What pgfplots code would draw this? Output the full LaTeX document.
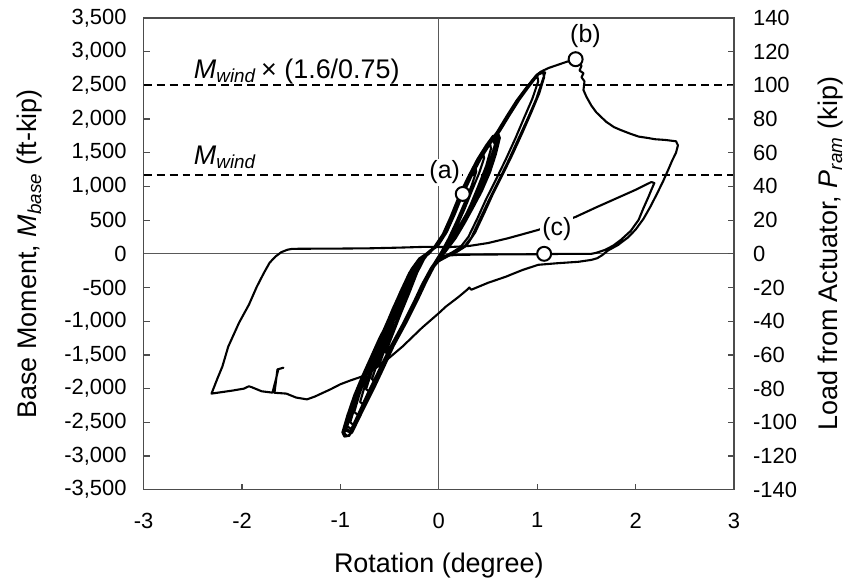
\documentclass[border=0pt]{standalone}
\usepackage{pgfplots}
\pgfplotsset{compat=1.18}
\usepackage{fontspec}
\setmainfont{Liberation Sans}
\begin{document}
\begin{tikzpicture}
\pgfplotsset{
  base/.style={width=296pt, height=236.5pt, scale only axis,
   /pgf/number format/assume math mode=true,
   tick label style={font=\fontsize{11}{13}\selectfont},
   label style={font=\fontsize{13.5}{16}\selectfont},
   axis line style={black!70, line width=0.6pt},
   tick style={black!70, line width=0.6pt},
   tick align=inside, major tick length=3pt,
   xmin=-3, xmax=3},
  hyst/.style={black, line width=1.05pt, line join=round, no markers}
}
\begin{axis}[base,
  ymin=-3500, ymax=3500, ytick distance=500, xtick distance=1,
  xtick pos=bottom, ytick pos=left,
  yticklabel style={/pgf/number format/1000 sep={,}, xshift=-5pt},
  xticklabel style={yshift=-8pt},
  xlabel={Rotation (degree)},
  ylabel={Base Moment, \textit{M}\textsubscript{\textit{base}} (ft-kip)},
  xlabel style={at={(rel axis cs:0.5,-0.1607)}, anchor=center},
  ylabel style={at={(rel axis cs:-0.1926,0.5)}, anchor=center},
]
% zero lines
\addplot[black!65, line width=0.6pt] coordinates {(0,-3500) (0,3500)};
\addplot[black!65, line width=0.6pt] coordinates {(-3,0) (3,0)};
% reference lines
\addplot[black, line width=1.1pt, dash pattern=on 4pt off 2.5pt] coordinates {(-3,2500) (3,2500)};
\addplot[black, line width=1.1pt, dash pattern=on 4pt off 2.5pt] coordinates {(-3,1172) (3,1172)};
% cyclic bundle
\addplot[hyst] coordinates {
(-0.12,0) (-0.03,100) (0.06,300) (0.14,560) (0.22,850) (0.31,1130) (0.37,1300)
(0.38,1220) (0.33,1000) (0.26,750) (0.18,480) (0.1,230) (0.03,40) (-0.03,-100) (-0.08,-220)
(-0.17,-450) (-0.25,-700) (-0.37,-1050) (-0.47,-1350) (-0.52,-1500)
(-0.54,-1460) (-0.47,-1200) (-0.39,-900) (-0.3,-580) (-0.22,-280) (-0.15,-80) (-0.1,20)
(-0.02,110) (0.07,310) (0.15,570) (0.23,860) (0.32,1140) (0.41,1400) (0.45,1500)
(0.46,1420) (0.41,1200) (0.34,950) (0.26,660) (0.18,400) (0.1,170) (0.03,20) (-0.03,-110) (-0.08,-220)
(-0.16,-440) (-0.24,-690) (-0.36,-1040) (-0.49,-1390) (-0.57,-1650) (-0.59,-1700)
(-0.61,-1660) (-0.55,-1420) (-0.47,-1130) (-0.39,-850) (-0.31,-560) (-0.23,-260) (-0.16,-70) (-0.11,10)
(-0.03,105) (0.06,305) (0.14,565) (0.23,855) (0.32,1135) (0.42,1410) (0.51,1620) (0.52,1650)
(0.53,1560) (0.48,1300) (0.4,1000) (0.32,720) (0.24,470) (0.16,250) (0.08,60) (0.0,-70) (-0.06,-200)
(-0.14,-420) (-0.22,-670) (-0.34,-1020) (-0.47,-1370) (-0.57,-1690) (-0.63,-1870) (-0.65,-1900)
(-0.68,-1860) (-0.62,-1600) (-0.54,-1300) (-0.46,-1000) (-0.37,-700) (-0.29,-400) (-0.21,-160) (-0.15,-40) (-0.1,15)
(-0.02,110) (0.07,315) (0.15,575) (0.23,865) (0.32,1145) (0.42,1420) (0.51,1630) (0.57,1750)
(0.59,1660) (0.54,1400) (0.47,1140) (0.39,880) (0.31,640) (0.22,410) (0.14,200) (0.06,40) (-0.01,-80) (-0.07,-210)
(-0.15,-430) (-0.23,-680) (-0.35,-1030) (-0.48,-1380) (-0.58,-1700) (-0.66,-1950) (-0.7,-2050)
(-0.74,-2010) (-0.68,-1740) (-0.6,-1430) (-0.52,-1130) (-0.43,-820) (-0.34,-500) (-0.26,-230) (-0.19,-70) (-0.12,10)
(-0.03,100) (0.06,300) (0.14,560) (0.22,850) (0.31,1130) (0.41,1410) (0.5,1620) (0.59,1800)
(0.61,1700) (0.56,1420) (0.5,1160) (0.42,880) (0.33,650) (0.24,420) (0.15,200) (0.07,40) (0.0,-80) (-0.06,-200)
(-0.14,-420) (-0.22,-670) (-0.34,-1020) (-0.47,-1370) (-0.57,-1690) (-0.67,-2000) (-0.75,-2250)
(-0.8,-2200) (-0.75,-1950) (-0.68,-1660) (-0.6,-1370) (-0.51,-1060) (-0.42,-740) (-0.33,-440) (-0.25,-190) (-0.18,-60) (-0.12,0)
(-0.04,95) (0.05,295) (0.13,555) (0.21,845) (0.3,1125) (0.4,1405) (0.49,1615) (0.58,1780)
(0.6,1690) (0.55,1430) (0.49,1170) (0.41,900) (0.32,660) (0.23,430) (0.14,210) (0.06,45) (-0.01,-80) (-0.07,-205)
(-0.15,-430) (-0.23,-680) (-0.35,-1030) (-0.48,-1380) (-0.58,-1700) (-0.68,-2010) (-0.78,-2300) (-0.81,-2400)
(-0.86,-2350) (-0.81,-2100) (-0.74,-1800) (-0.66,-1500) (-0.58,-1220) (-0.49,-920) (-0.4,-620) (-0.31,-330) (-0.23,-130) (-0.16,-30) (-0.12,5)
(-0.01,115) (0.08,320) (0.16,580) (0.24,870) (0.33,1150) (0.43,1425) (0.52,1635) (0.55,1700)
(0.57,1620) (0.52,1380) (0.45,1120) (0.37,860) (0.29,620) (0.2,390) (0.12,185) (0.04,30) (-0.02,-90) (-0.08,-215)
(-0.16,-440) (-0.24,-690) (-0.36,-1040) (-0.49,-1390) (-0.6,-1720) (-0.7,-2040) (-0.8,-2350) (-0.86,-2550)
(-0.9,-2500) (-0.85,-2250) (-0.78,-1950) (-0.7,-1650) (-0.62,-1360) (-0.53,-1060) (-0.45,-790) (-0.35,-480) (-0.27,-220) (-0.19,-60) (-0.13,0)
(-0.05,95) (0.04,290) (0.12,550) (0.2,840) (0.29,1120) (0.39,1400) (0.48,1610) (0.55,1750)
(0.58,1680) (0.54,1450) (0.48,1190) (0.4,920) (0.31,670) (0.22,440) (0.13,220) (0.05,50) (-0.02,-85) (-0.08,-210)
(-0.17,-450) (-0.25,-700) (-0.37,-1050) (-0.5,-1400) (-0.61,-1730) (-0.72,-2060) (-0.82,-2380) (-0.89,-2600)
(-0.93,-2560) (-0.88,-2300) (-0.81,-2000) (-0.73,-1700) (-0.64,-1400) (-0.55,-1100) (-0.47,-820) (-0.37,-500) (-0.28,-230) (-0.2,-70) (-0.13,0)
(-0.03,105) (0.06,305) (0.14,565) (0.22,850) (0.31,1130) (0.41,1410) (0.5,1620) (0.6,1800)
(0.62,1720) (0.58,1480) (0.52,1210) (0.44,940) (0.35,690) (0.26,450) (0.17,230) (0.08,55) (0.01,-75) (-0.05,-195)
(-0.13,-420) (-0.21,-670) (-0.33,-1020) (-0.46,-1370) (-0.57,-1700) (-0.67,-2010) (-0.79,-2370) (-0.88,-2650)
(-0.94,-2600) (-0.89,-2350) (-0.83,-2060) (-0.75,-1760) (-0.66,-1460) (-0.57,-1160) (-0.48,-860) (-0.39,-560) (-0.3,-280) (-0.21,-90) (-0.13,0)
(-0.03,110) (0.06,310) (0.14,565) (0.22,855) (0.31,1135) (0.41,1415) (0.5,1625) (0.6,1815) (0.7,2055) (0.8,2285) (0.9,2480) (0.98,2630) (1.0,2650)
(1.01,2560) (0.95,2300) (0.87,2030) (0.78,1720) (0.68,1400) (0.58,1100) (0.48,810) (0.39,520) (0.3,250) (0.22,100) (0.14,25) (0.05,-45) (-0.03,-140) (-0.08,-210)
(-0.16,-440) (-0.24,-690) (-0.36,-1040) (-0.49,-1390) (-0.59,-1710) (-0.69,-2020) (-0.81,-2370) (-0.9,-2650)
(-0.95,-2620) (-0.91,-2400) (-0.84,-2100) (-0.76,-1820) (-0.67,-1530) (-0.59,-1270) (-0.5,-1010) (-0.42,-780) (-0.32,-470) (-0.23,-190) (-0.16,-60) (-0.1,0)
(-0.04,100) (0.05,300) (0.13,555) (0.21,845) (0.3,1125) (0.4,1405) (0.49,1615) (0.59,1805) (0.69,2045) (0.79,2275) (0.89,2470) (0.99,2650) (1.04,2705)
(1.08,2690) (1.06,2600) (0.99,2300) (0.91,2030) (0.81,1710) (0.71,1390) (0.61,1090) (0.51,800) (0.42,520) (0.33,240) (0.25,90) (0.17,20) (0.07,-45) (-0.02,-130) (-0.07,-200)
(-0.15,-430) (-0.23,-680) (-0.35,-1030) (-0.48,-1380) (-0.58,-1700) (-0.68,-2010) (-0.8,-2360) (-0.91,-2700) (-0.96,-2712)
(-0.98,-2650) (-0.93,-2400) (-0.86,-2100) (-0.78,-1820) (-0.69,-1530) (-0.61,-1270) (-0.52,-1010) (-0.44,-780) (-0.34,-470) (-0.25,-190) (-0.18,-60) (-0.12,0)
(-0.02,120) (0.07,320) (0.15,575) (0.24,865) (0.33,1145) (0.43,1420) (0.52,1630) (0.62,1820) (0.72,2060) (0.82,2290) (0.92,2490) (1.01,2660) (1.06,2690)
(1.07,2620) (1.02,2380) (0.94,2100) (0.85,1800) (0.75,1480) (0.65,1180) (0.55,890) (0.46,600) (0.37,320) (0.28,120) (0.19,35) (0.1,-30) (0.0,-110) (-0.05,-190)
(-0.13,-420) (-0.21,-670) (-0.33,-1020) (-0.46,-1370) (-0.56,-1690) (-0.66,-2000) (-0.78,-2350) (-0.88,-2650) (-0.93,-2705)
(-0.96,-2660) (-0.92,-2450) (-0.85,-2150) (-0.77,-1860) (-0.68,-1560) (-0.6,-1290) (-0.51,-1030) (-0.42,-790) (-0.33,-480) (-0.24,-200) (-0.17,-65) (-0.12,0)
};
% final push to (b), softening, reversal to negative side
\addplot[hyst] coordinates {
(-0.12,0) (-0.03,120) (0.06,320) (0.14,560) (0.22,850) (0.31,1130) (0.41,1410) (0.5,1620) (0.6,1810) (0.7,2050) (0.8,2280) (0.9,2480) (1.0,2660)
(1.06,2720) (1.12,2760) (1.2,2800) (1.3,2850) (1.39,2888) (1.42,2860) (1.45,2790) (1.43,2720) (1.47,2680) (1.45,2620) (1.48,2560) (1.47,2430)
(1.5,2330) (1.55,2200) (1.6,2100) (1.7,1960) (1.78,1880) (1.85,1836) (1.95,1780) (2.03,1740) (2.12,1720) (2.2,1700) (2.3,1690) (2.41,1670)
(2.43,1610) (2.41,1500) (2.37,1380) (2.33,1244) (2.28,1080) (2.22,900) (2.15,700) (2.08,520) (2.0,360) (1.92,240) (1.82,130) (1.72,50)
(1.66,-20) (1.61,-65) (1.55,-90) (1.42,-118) (1.2,-140) (1.01,-163) (0.85,-240) (0.68,-340) (0.5,-430) (0.33,-533) (0.31,-500) (0.29,-530)
(0.2,-640) (0.07,-785) (0.0,-880) (-0.17,-1096) (-0.37,-1377) (-0.55,-1600) (-0.74,-1800) (-0.9,-1880) (-1.0,-1935) (-1.1,-2010)
(-1.26,-2118) (-1.34,-2160) (-1.45,-2133) (-1.55,-2074) (-1.67,-2062) (-1.64,-1715) (-1.58,-1690) (-1.63,-1712) (-1.69,-2060)
(-1.8,-2040) (-1.9,-1980) (-1.93,-1965) (-1.98,-2000) (-2.1,-2030) (-2.31,-2074)
(-2.25,-1850) (-2.2,-1674) (-2.14,-1377) (-2.03,-1022) (-1.93,-755) (-1.85,-489) (-1.78,-290) (-1.72,-133) (-1.66,-40) (-1.6,25) (-1.54,60) (-1.49,74)
(-1.3,76) (-1.0,78) (-0.7,82) (-0.4,92) (-0.13,104) (0.1,100) (0.3,115) (0.5,160) (0.7,230) (0.85,290) (1.01,355) (1.2,450) (1.39,548)
(1.6,690) (1.8,820) (2.0,950) (2.16,1066) (2.19,1050) (2.16,950) (2.13,844) (2.08,680) (2.03,503) (1.95,340) (1.85,207) (1.77,120) (1.69,59)
(1.6,15) (1.55,0) (1.3,0) (1.07,-5) (0.8,-8) (0.5,-10) (0.2,-15) (0.05,-30)
};
% annotations
\node[anchor=west, font=\fontsize{13.5}{16}\selectfont] at (axis cs:-2.56,2710) {\textit{M}\textsubscript{\textit{wind}}\,× (1.6/0.75)};
\node[anchor=west, font=\fontsize{13.5}{16}\selectfont] at (axis cs:-2.56,1436) {\textit{M}\textsubscript{\textit{wind}}};
\node[fill=white, inner sep=1pt, font=\fontsize{12.5}{15}\selectfont] at (axis cs:0.06,1210) {(a)};
\node[fill=white, inner sep=1pt, font=\fontsize{12.5}{15}\selectfont] at (axis cs:1.49,3229) {(b)};
\node[fill=white, inner sep=1pt, font=\fontsize{12.5}{15}\selectfont] at (axis cs:1.20,370) {(c)};
\addplot[only marks, mark=*, mark size=3.5pt, mark options={fill=white, draw=black, line width=1pt}] coordinates {(0.243,889) (1.39,2888) (1.07,0)};
\end{axis}
\begin{axis}[base,
  ymin=-140, ymax=140, ytick distance=20,
  axis y line*=right, axis x line=none,
  yticklabel style={xshift=6pt},
  ylabel={Load from Actuator, \textit{P}\textsubscript{\textit{ram}} (kip)},
  ylabel style={at={(rel axis cs:1.1639,0.5)}, anchor=center, rotate=0},
]
\addplot[draw=none] coordinates {(0,0)};
\end{axis}
\path (current axis.south west) ++(-72pt,-48pt) rectangle ([xshift=57pt,yshift=9pt]current axis.north east);
\end{tikzpicture}
\end{document}
